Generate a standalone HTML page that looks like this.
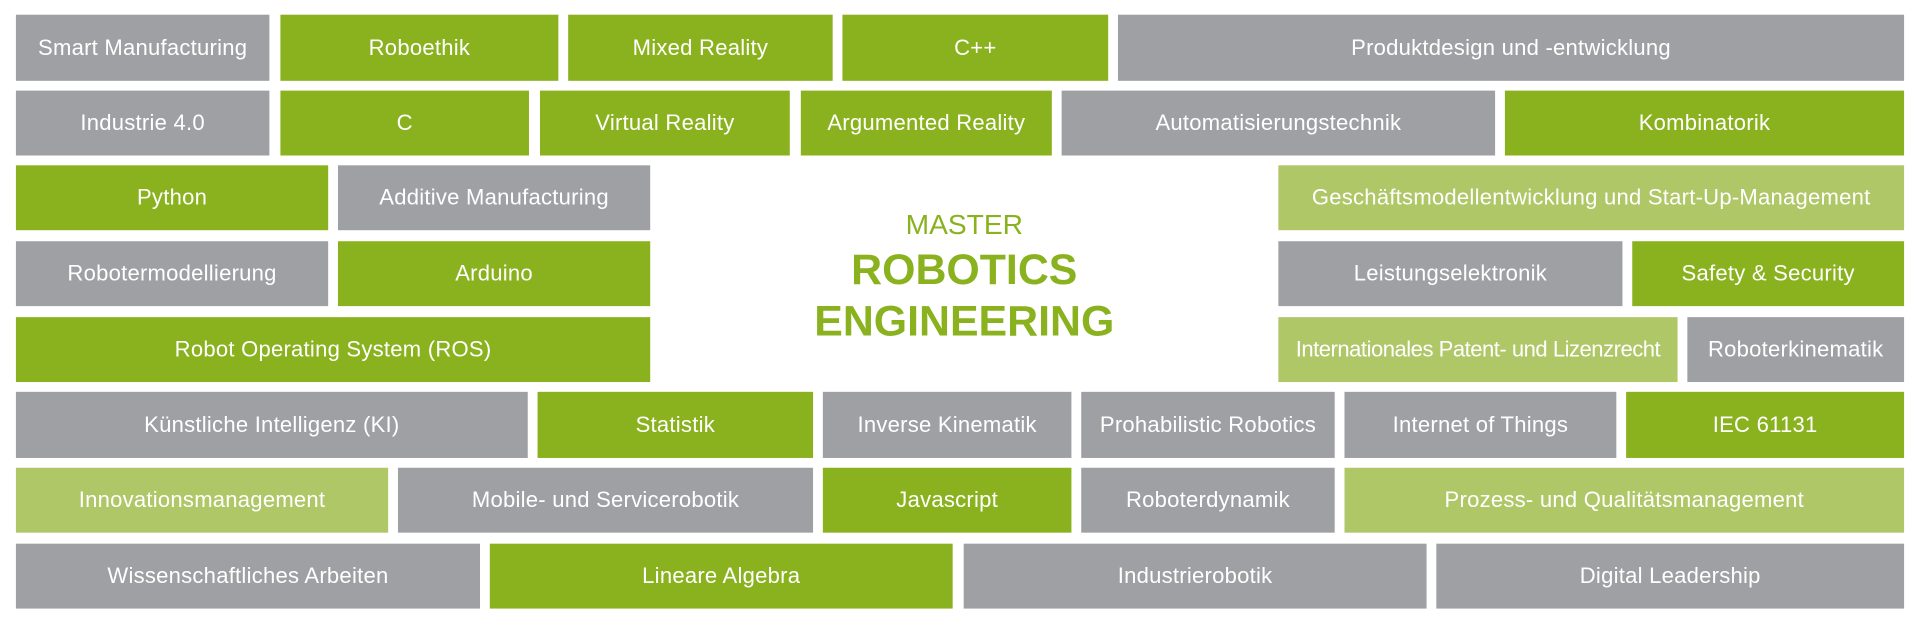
<!DOCTYPE html>
<html><head><meta charset="utf-8"><style>
html,body{margin:0;padding:0;background:#fff;width:1920px;height:627px;overflow:hidden}
#w{position:absolute;left:0;top:0;width:1568px;height:512px;transform:scale(1.22449);transform-origin:0 0}
.b{position:absolute;display:flex;align-items:center;justify-content:center;color:#fff;font-family:"Liberation Sans",sans-serif;font-size:18px;letter-spacing:0.2px;white-space:nowrap}
.g{background:#9ea0a3}.n{background:#8ab21f}.l{background:#afc767}
.t{position:absolute;left:560px;width:455px;text-align:center;color:#8ab21f;font-family:"Liberation Sans",sans-serif;line-height:1}
</style></head><body><div id="w">
<div class="b g" style="left:13px;top:12px;width:207px;height:54px">Smart Manufacturing</div>
<div class="b n" style="left:229px;top:12px;width:227px;height:54px">Roboethik</div>
<div class="b n" style="left:464px;top:12px;width:216px;height:54px">Mixed Reality</div>
<div class="b n" style="left:688px;top:12px;width:217px;height:54px">C++</div>
<div class="b g" style="left:913px;top:12px;width:642px;height:54px">Produktdesign und -entwicklung</div>

<div class="b g" style="left:13px;top:74px;width:207px;height:53px">Industrie 4.0</div>
<div class="b n" style="left:229px;top:74px;width:203px;height:53px">C</div>
<div class="b n" style="left:441px;top:74px;width:204px;height:53px">Virtual Reality</div>
<div class="b n" style="left:654px;top:74px;width:205px;height:53px">Argumented Reality</div>
<div class="b g" style="left:867px;top:74px;width:354px;height:53px">Automatisierungstechnik</div>
<div class="b n" style="left:1229px;top:74px;width:326px;height:53px">Kombinatorik</div>

<div class="b n" style="left:13px;top:135px;width:255px;height:53px">Python</div>
<div class="b g" style="left:276px;top:135px;width:255px;height:53px">Additive Manufacturing</div>
<div class="b l" style="left:1044px;top:135px;width:511px;height:53px">Geschäftsmodellentwicklung und Start-Up-Management</div>

<div class="b g" style="left:13px;top:197px;width:255px;height:53px">Robotermodellierung</div>
<div class="b n" style="left:276px;top:197px;width:255px;height:53px">Arduino</div>
<div class="b g" style="left:1044px;top:197px;width:281px;height:53px">Leistungselektronik</div>
<div class="b n" style="left:1333px;top:197px;width:222px;height:53px">Safety &amp; Security</div>

<div class="b n" style="left:13px;top:259px;width:518px;height:53px">Robot Operating System (ROS)</div>
<div class="b l" style="left:1044px;top:259px;width:326px;height:53px;letter-spacing:-0.4px">Internationales Patent- und Lizenzrecht</div>
<div class="b g" style="left:1378px;top:259px;width:177px;height:53px">Roboterkinematik</div>

<div class="b g" style="left:13px;top:320px;width:418px;height:54px">Künstliche Intelligenz (KI)</div>
<div class="b n" style="left:439px;top:320px;width:225px;height:54px">Statistik</div>
<div class="b g" style="left:672px;top:320px;width:203px;height:54px">Inverse Kinematik</div>
<div class="b g" style="left:883px;top:320px;width:207px;height:54px">Prohabilistic Robotics</div>
<div class="b g" style="left:1098px;top:320px;width:222px;height:54px">Internet of Things</div>
<div class="b n" style="left:1328px;top:320px;width:227px;height:54px">IEC 61131</div>

<div class="b l" style="left:13px;top:382px;width:304px;height:53px">Innovationsmanagement</div>
<div class="b g" style="left:325px;top:382px;width:339px;height:53px">Mobile- und Servicerobotik</div>
<div class="b n" style="left:672px;top:382px;width:203px;height:53px">Javascript</div>
<div class="b g" style="left:883px;top:382px;width:207px;height:53px">Roboterdynamik</div>
<div class="b l" style="left:1098px;top:382px;width:457px;height:53px">Prozess- und Qualitätsmanagement</div>

<div class="b g" style="left:13px;top:444px;width:379px;height:53px">Wissenschaftliches Arbeiten</div>
<div class="b n" style="left:400px;top:444px;width:378px;height:53px">Lineare Algebra</div>
<div class="b g" style="left:787px;top:444px;width:378px;height:53px">Industrierobotik</div>
<div class="b g" style="left:1173px;top:444px;width:382px;height:53px">Digital Leadership</div>

<div class="t" style="top:172px;font-size:23px">MASTER</div>
<div class="t" style="top:203px;font-size:35px;font-weight:bold">ROBOTICS</div>
<div class="t" style="top:245px;font-size:35px;font-weight:bold">ENGINEERING</div>
</div></body></html>
